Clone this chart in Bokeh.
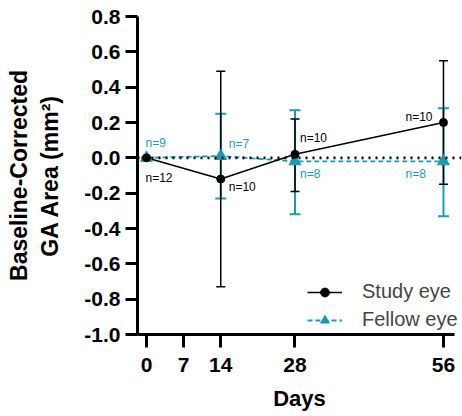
from bokeh.plotting import figure
from bokeh.models import (ColumnDataSource, Range1d, FixedTicker, PrintfTickFormatter,
                          Whisker, TeeHead, Span, Legend, LegendItem)
from bokeh.core.properties import value
from bokeh.embed import file_html
from bokeh.resources import INLINE

# ---- data ----
days = [0, 14, 28, 56]
study_mean = [0.0, -0.12, 0.02, 0.20]
study_upper = [0.0, 0.49, 0.22, 0.55]
study_lower = [0.0, -0.73, -0.19, -0.15]
fellow_mean = [0.0, 0.01, -0.02, -0.02]
fellow_upper = [0.0, 0.25, 0.27, 0.28]
fellow_lower = [0.0, -0.23, -0.32, -0.33]
study_n = ["n=12", "n=10", "n=10", "n=10"]
fellow_n = ["n=9", "n=7", "n=8", "n=8"]
x_ticks = [0, 7, 14, 28, 56]
y_ticks = [-1.0, -0.8, -0.6, -0.4, -0.2, 0.0, 0.2, 0.4, 0.6, 0.8]

BLACK = "#000000"
TEAL = "#1a9bb2"
FONT = "Liberation Sans"

p = figure(width=462, height=416, output_backend="svg", toolbar_location=None,
           x_range=Range1d(-1.7, 59.4), y_range=Range1d(-1.0, 0.8),
           min_border_left=137, min_border_right=1, min_border_top=16, min_border_bottom=82)
p.xgrid.visible = False
p.ygrid.visible = False
p.outline_line_color = None

study_src = ColumnDataSource(dict(x=days, y=study_mean, up=study_upper, lo=study_lower))
fellow_src = ColumnDataSource(dict(x=days, y=fellow_mean, up=fellow_upper, lo=fellow_lower))

# error bars
fw = Whisker(source=fellow_src, base="x", upper="up", lower="lo",
             line_color=TEAL, line_width=2,
             upper_head=TeeHead(size=11, line_color=TEAL, line_width=2),
             lower_head=TeeHead(size=11, line_color=TEAL, line_width=2))
sw = Whisker(source=study_src, base="x", upper="up", lower="lo",
             line_color=BLACK, line_width=1.5,
             upper_head=TeeHead(size=9, line_color=BLACK, line_width=1.5),
             lower_head=TeeHead(size=9, line_color=BLACK, line_width=1.5))
p.add_layout(fw)
p.add_layout(sw)

fl = p.line("x", "y", source=fellow_src, line_color=TEAL, line_width=1.8, line_dash="5 3")
sl = p.line("x", "y", source=study_src, line_color=BLACK, line_width=1.5)

zero = Span(location=0, dimension="width", line_color=BLACK, line_width=2.6,
            line_dash="2 5")
p.add_layout(zero)

fm = p.scatter("x", "y", source=fellow_src, marker="triangle", size=12,
               fill_color=TEAL, line_color=TEAL)
sm = p.scatter("x", "y", source=study_src, marker="circle", size=8,
               fill_color=BLACK, line_color=BLACK)

# n labels
lab_src = ColumnDataSource(dict(
    x=days + days,
    y=study_mean + fellow_mean,
    text=study_n + fellow_n,
    color=[BLACK] * 4 + [TEAL] * 4,
    dx=[-1, 8, 5, -38, -1, 8, 5, -38],
    dy=[20, 8, -16, -6, -15, -12, 13, 13],
))
p.text("x", "y", text="text", source=lab_src, text_color="color",
       x_offset="dx", y_offset="dy", text_font=value(FONT), text_font_size="12px",
       text_align="left", text_baseline="middle")

# axes
for ax in (p.xaxis[0], p.yaxis[0]):
    ax.axis_line_width = 3
    ax.major_tick_line_width = 3
    ax.major_tick_in = 0
    ax.minor_tick_line_color = None
    ax.major_label_text_font = FONT
    ax.major_label_text_font_style = "bold"
    ax.major_label_text_font_size = "21px"
    ax.major_label_text_color = BLACK
    ax.axis_label_text_font = FONT
    ax.axis_label_text_font_style = "bold"
    ax.axis_label_text_font_size = "22px"
    ax.axis_label_text_color = BLACK
    ax.axis_line_color = BLACK
    ax.major_tick_line_color = BLACK

p.xaxis.ticker = FixedTicker(ticks=x_ticks)
p.xaxis.bounds = (-1.7, 58.0)
p.xaxis.major_tick_out = 13
p.xaxis.major_label_standoff = 10
p.xaxis.axis_label = "Days"
p.xaxis.axis_label_standoff = 11

p.yaxis.ticker = FixedTicker(ticks=y_ticks)
p.yaxis.formatter = PrintfTickFormatter(format="%.1f")
p.yaxis.major_tick_out = 12
p.yaxis.major_label_standoff = 5
p.yaxis.axis_label = "Baseline-Corrected\nGA Area (mm\u00b2)"
p.yaxis.axis_label_text_font_size = "23px"
p.yaxis.axis_label_standoff = 18

legend = Legend(items=[LegendItem(label="Study eye", renderers=[sl, sm]),
                       LegendItem(label="Fellow eye", renderers=[fl, fm])],
                location=(170, 3), padding=0, margin=0, spacing=5,
                glyph_width=35, glyph_height=22, label_height=22, label_standoff=20,
                label_text_font=FONT, label_text_font_size="20px",
                border_line_color=None, background_fill_alpha=0)
p.add_layout(legend, "center")

open("out.html", "w").write(file_html(p, INLINE))
